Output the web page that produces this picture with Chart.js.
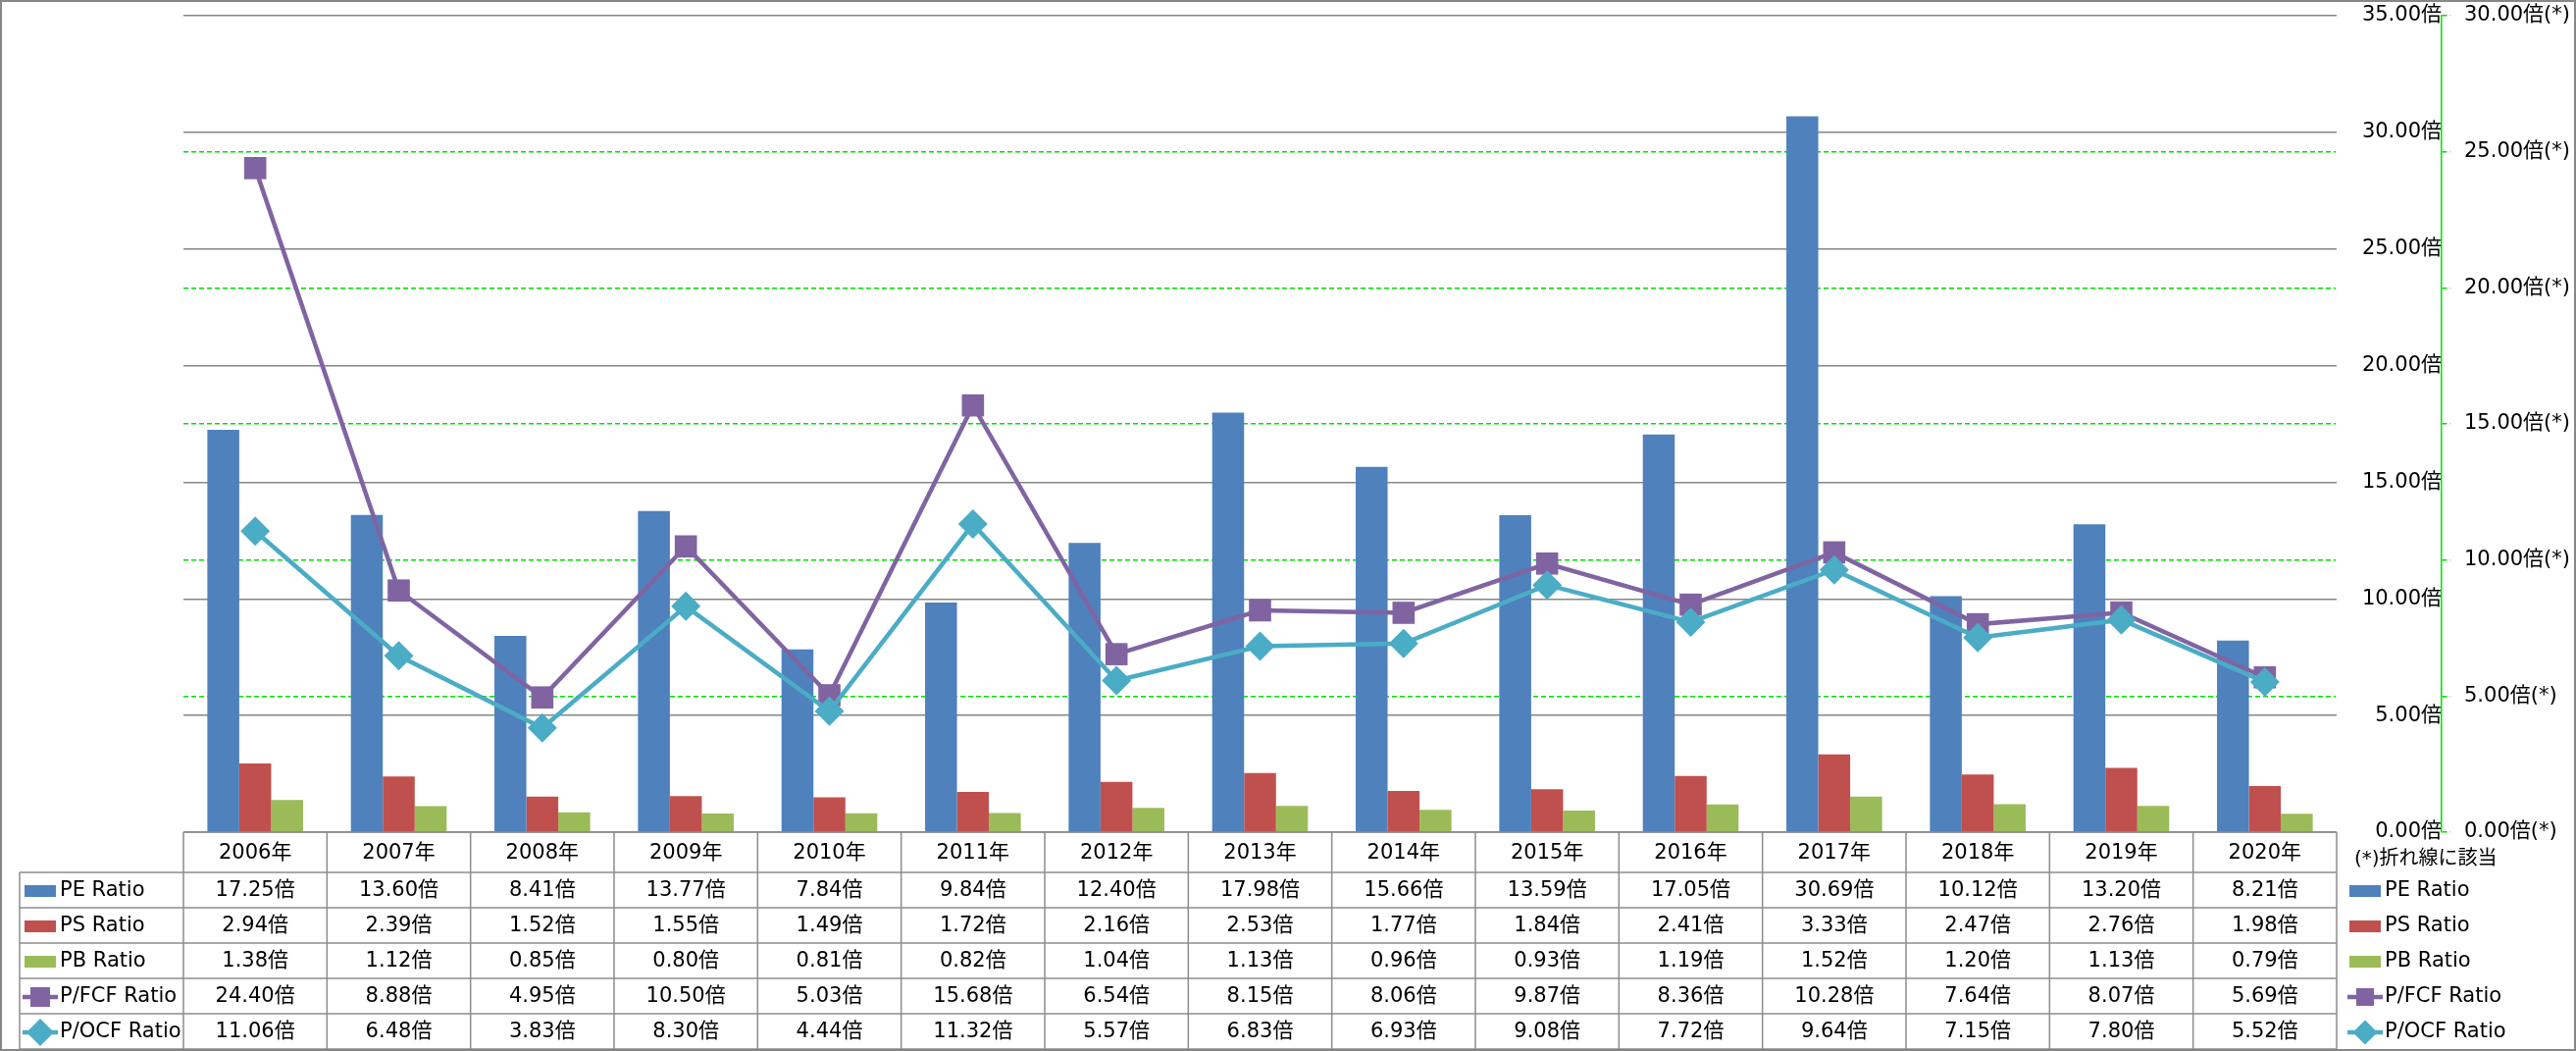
<!DOCTYPE html>
<html>
<head>
<meta charset="utf-8">
<script src="https://cdn.jsdelivr.net/npm/chart.js@4/dist/chart.umd.min.js"></script>
<style>
  html, body { margin: 0; padding: 0; background: #fff; }
  #wrap { width: 2626px; height: 1071px; position: relative; }
</style>
</head>
<body>
<div id="wrap"><canvas id="grafico"></canvas></div>
<script>
// --- DATOS ---
const years = ['2006年', '2007年', '2008年', '2009年', '2010年', '2011年', '2012年', '2013年',
               '2014年', '2015年', '2016年', '2017年', '2018年', '2019年', '2020年'];
const peRatio   = [17.25, 13.60, 8.41, 13.77, 7.84, 9.84, 12.40, 17.98, 15.66, 13.59, 17.05, 30.69, 10.12, 13.20, 8.21];
const psRatio   = [2.94, 2.39, 1.52, 1.55, 1.49, 1.72, 2.16, 2.53, 1.77, 1.84, 2.41, 3.33, 2.47, 2.76, 1.98];
const pbRatio   = [1.38, 1.12, 0.85, 0.80, 0.81, 0.82, 1.04, 1.13, 0.96, 0.93, 1.19, 1.52, 1.20, 1.13, 0.79];
const pfcfRatio = [24.40, 8.88, 4.95, 10.50, 5.03, 15.68, 6.54, 8.15, 8.06, 9.87, 8.36, 10.28, 7.64, 8.07, 5.69];
const pocfRatio = [11.06, 6.48, 3.83, 8.30, 4.44, 11.32, 5.57, 6.83, 6.93, 9.08, 7.72, 9.64, 7.15, 7.80, 5.52];
const leftTicks  = [0, 5, 10, 15, 20, 25, 30, 35];
const rightTicks = [0, 5, 10, 15, 20, 25, 30];
const nota = '(*)折れ線に該当';

const AZUL = '#4F81BD', ROJO = '#C0504D', VERDE = '#9BBB59', MORADO = '#8064A2', CIAN = '#4BACC6';
const VERDE_LINEA = '#00e000';
const FUENTE = '"DejaVu Sans", "Noto Sans CJK JP", sans-serif';

// filas de la tabla (texto, color, tipo, valores)
const filas = [
  { label: 'PE Ratio',    color: AZUL,   tipo: 'bar',  data: peRatio },
  { label: 'PS Ratio',    color: ROJO,   tipo: 'bar',  data: psRatio },
  { label: 'PB Ratio',    color: VERDE,  tipo: 'bar',  data: pbRatio },
  { label: 'P/FCF Ratio', color: MORADO, tipo: 'rect', data: pfcfRatio },
  { label: 'P/OCF Ratio', color: CIAN,   tipo: 'rectRot', data: pocfRatio }
];

// --- CLAVES DE LEYENDA ---
function dibujarClave(ctx, fila, x0, x1, cy, m) {
  const cx = (x0 + x1) / 2;
  ctx.save();
  ctx.fillStyle = fila.color;
  ctx.strokeStyle = fila.color;
  if (fila.tipo === 'bar') {
    ctx.fillRect(x0 + 2, cy - 6, x1 - x0 - 4, 12);
  } else {
    ctx.lineWidth = 4.5;
    ctx.beginPath(); ctx.moveTo(x0, cy); ctx.lineTo(x1, cy); ctx.stroke();
    ctx.beginPath();
    if (fila.tipo === 'rect') {
      ctx.rect(cx - m / 2, cy - m / 2, m, m);
    } else {
      const h = m * 0.7;
      ctx.moveTo(cx - h, cy); ctx.lineTo(cx, cy - h); ctx.lineTo(cx + h, cy); ctx.lineTo(cx, cy + h);
      ctx.closePath();
    }
    ctx.fill();
  }
  ctx.restore();
}

// --- TABLA DE DATOS + LEYENDA DERECHA ---
const tablaPlugin = {
  id: 'tablaDatos',
  afterDraw(chart) {
    const { ctx, chartArea: a, scales: { x } } = chart;
    const top = a.bottom, headH = 41, rowH = 36, tablaIzq = 20;
    const colW = (a.right - a.left) / years.length;
    const fondo = top + headH + rowH * filas.length;

    ctx.save();
    ctx.strokeStyle = '#8c8c8c';
    ctx.lineWidth = 1.5;
    const linea = (x1, y1, x2, y2) => { ctx.beginPath(); ctx.moveTo(x1, y1); ctx.lineTo(x2, y2); ctx.stroke(); };

    linea(a.left, top, a.right, top);
    for (let r = 0; r <= filas.length; r++) {
      const y = top + headH + r * rowH;
      linea(tablaIzq, y, a.right, y);
    }
    for (let k = 0; k <= years.length; k++) {
      const xk = a.left + k * colW;
      linea(xk, top, xk, fondo);
    }
    linea(tablaIzq, top + headH, tablaIzq, fondo);

    ctx.fillStyle = '#000';
    ctx.font = '21px ' + FUENTE;
    ctx.textAlign = 'center';
    ctx.textBaseline = 'middle';
    years.forEach((y, i) => ctx.fillText(y, x.getPixelForValue(i), top + headH / 2 + 1));

    filas.forEach((f, r) => {
      const cy = top + headH + r * rowH + rowH / 2 + 1;
      ctx.textAlign = 'center';
      ctx.fillStyle = '#000';
      f.data.forEach((v, i) => ctx.fillText(v.toFixed(2) + '倍', x.getPixelForValue(i), cy));
      // clave izquierda
      dibujarClave(ctx, f, 23, 59, cy, 20);
      ctx.fillStyle = '#000';
      ctx.textAlign = 'left';
      ctx.fillText(f.label, 61, cy);
      // leyenda derecha
      dibujarClave(ctx, f, 2393, 2429, cy, 18);
      ctx.fillStyle = '#000';
      ctx.fillText(f.label, 2431, cy);
    });

    ctx.font = '20px ' + FUENTE;
    ctx.textAlign = 'left';
    ctx.fillText(nota, 2400, top + 28);

    // borde exterior
    ctx.strokeStyle = '#868686';
    ctx.lineWidth = 2;
    ctx.strokeRect(1, 1, chart.width - 2, chart.height - 2);
    ctx.restore();
  }
};

// ancho fijo de los ejes y sin relleno extra arriba/abajo
function fijarEje(ancho) {
  return s => { s.width = ancho; s.paddingTop = 0; s.paddingBottom = 0; };
}

// --- GRÁFICO ---
Chart.defaults.font.family = FUENTE;
Chart.defaults.color = '#000';

new Chart(document.getElementById('grafico'), {
  type: 'bar',
  data: {
    labels: years,
    datasets: [
      { label: 'PE Ratio', data: peRatio, backgroundColor: AZUL, yAxisID: 'y', order: 2 },
      { label: 'PS Ratio', data: psRatio, backgroundColor: ROJO, yAxisID: 'y', order: 2 },
      { label: 'PB Ratio', data: pbRatio, backgroundColor: VERDE, yAxisID: 'y', order: 2 },
      {
        type: 'line', label: 'P/FCF Ratio', data: pfcfRatio, yAxisID: 'y2', order: 1,
        borderColor: MORADO, backgroundColor: MORADO, borderWidth: 4.5,
        pointStyle: 'rect', pointRadius: 16, pointBorderWidth: 0, pointBackgroundColor: MORADO,
        tension: 0
      },
      {
        type: 'line', label: 'P/OCF Ratio', data: pocfRatio, yAxisID: 'y2', order: 0,
        borderColor: CIAN, backgroundColor: CIAN, borderWidth: 4.5,
        pointStyle: 'rectRot', pointRadius: 15, pointBorderWidth: 0, pointBackgroundColor: CIAN,
        tension: 0
      }
    ]
  },
  options: {
    responsive: true,
    maintainAspectRatio: false,
    animation: false,
    devicePixelRatio: 1,
    layout: { padding: { left: 187, top: 16, bottom: 223, right: 0 } },
    datasets: { bar: { categoryPercentage: 0.667, barPercentage: 1 } },
    plugins: { legend: { display: false }, tooltip: { enabled: false } },
    scales: {
      x: { display: false, offset: true },
      y: {
        position: 'right', min: 0, max: 35, weight: 0,
        afterBuildTicks: s => { s.ticks = leftTicks.map(v => ({ value: v })); },
        afterFit: fijarEje(107),
        border: { display: false },
        grid: { color: '#868686', lineWidth: 1.5, drawTicks: false },
        ticks: {
          crossAlign: 'far', padding: 0,
          font: { size: 21 },
          callback: v => v.toFixed(2) + '倍'
        }
      },
      y2: {
        position: 'right', min: 0, max: 30, weight: 1,
        afterBuildTicks: s => { s.ticks = rightTicks.map(v => ({ value: v })); },
        afterFit: fijarEje(137),
        border: { display: true, color: VERDE_LINEA, width: 1.5, dash: [5, 3] },
        grid: {
          color: c => (c.tick && (c.tick.value === 30 || c.tick.value === 0)) ? 'rgba(0,0,0,0)' : VERDE_LINEA,
          lineWidth: 1.5, tickLength: 9,
          tickColor: VERDE_LINEA, tickBorderDash: [5, 3]
        },
        ticks: {
          crossAlign: 'near', padding: 14,
          font: { size: 21 },
          callback: v => v.toFixed(2) + '倍(*)'
        }
      }
    }
  },
  plugins: [tablaPlugin]
});
</script>
</body>
</html>
